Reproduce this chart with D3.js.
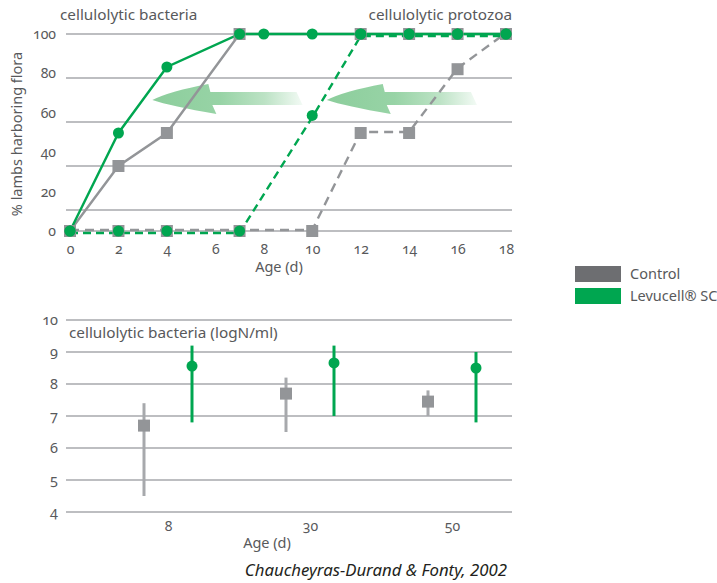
<!DOCTYPE html>
<html>
<head>
<meta charset="utf-8">
<script src="https://cdn.jsdelivr.net/npm/d3@7/dist/d3.min.js"></script>
<style>
    body { margin: 0; background: #fff; }
    svg text { font-family: "Noto Sans", "Open Sans", sans-serif; fill: #58595b; }
    .num { font-variant-numeric: oldstyle-nums; font-feature-settings: "onum" 1; }
</style>
</head>
<body>
<svg id="chart" width="717" height="583"></svg>
<script>
// ---- top chart data: [age in days, % lambs] ----
const dayTicks = [0, 2, 4, 6, 8, 10, 12, 14, 16, 18];
const pctTicks = [0, 20, 40, 60, 80, 100];
const bactControl = [[0, 0], [2, 40], [4, 55], [7, 100], [12, 100], [14, 100], [16, 100], [18, 100]];
const bactLevucell = [[0, 0], [2, 55], [4, 85], [7, 100], [8, 100], [10, 100], [12, 100], [14, 100], [16, 100], [18, 100]];
const protoControl = [[0, 0], [2, 0], [4, 0], [7, 0], [10, 0], [12, 55], [14, 55], [16, 84], [18, 100]];
const protoLevucell = [[0, 0], [2, 0], [4, 0], [7, 0], [10, 63], [12, 100], [14, 100], [16, 100], [18, 100]];
// arrows: from day -> to day, at % level
const arrows = [{ from: 9.6, to: 3.4, level: 70 }, { from: 16.8, to: 10.6, level: 70 }];

// ---- bottom chart data ----
const ageGroups = ["8", "30", "50"];
const logTicks = [4, 5, 6, 7, 8, 9, 10];
const ctrlMean = [6.7, 7.7, 7.45];
const ctrlLow = [4.5, 6.5, 7.0];
const ctrlHigh = [7.4, 8.2, 7.8];
const levMean = [8.56, 8.66, 8.5];
const levLow = [6.8, 7.0, 6.8];
const levHigh = [9.2, 9.2, 9.0];

const legendItems = ["Control", "Levucell® SC"];

const green = '#00a650', grey = '#939598', gridCol = '#a7a9ac', darkGrey = '#6d6e71';

const svg = d3.select('#chart');

// ================= top chart =================
const x = d3.scaleLinear().domain([0, 18]).range([70, 506]);
// gridlines in the original are not evenly spaced near zero
const y = d3.scaleLinear().domain([0, 20, 100]).range([231, 210, 34]);
const yLab = d3.scaleLinear().domain([0, 100]).range([231, 34]);

const topG = svg.append('g');

topG.selectAll('.grid').data(pctTicks).join('line')
    .attr('class', 'grid')
    .attr('x1', 66).attr('x2', 512)
    .attr('y1', d => y(d)).attr('y2', d => y(d))
    .attr('stroke', gridCol).attr('stroke-width', 1.5);

const yAxis = topG.append('g')
    .attr('transform', 'translate(56,0)')
    .call(d3.axisLeft(yLab).tickValues(pctTicks).tickSize(0).tickPadding(0));
yAxis.select('.domain').remove();
yAxis.selectAll('text').attr('class', 'num').style('font-size', '14px');

const xAxis = topG.append('g')
    .attr('transform', 'translate(0,231)')
    .call(d3.axisBottom(x).tickValues(dayTicks).tickSize(0).tickPadding(13));
xAxis.select('.domain').remove();
xAxis.selectAll('text').attr('class', 'num').style('font-size', '14px');

// arrows
const defs = svg.append('defs');
const grad = defs.append('linearGradient').attr('id', 'arrowGrad')
    .attr('x1', 0).attr('x2', 1).attr('y1', 0).attr('y2', 0);
grad.append('stop').attr('offset', 0).attr('stop-color', '#86cb97');
grad.append('stop').attr('offset', 0.45).attr('stop-color', '#92d1a1');
grad.append('stop').attr('offset', 0.75).attr('stop-color', '#b9e1c2');
grad.append('stop').attr('offset', 1).attr('stop-color', '#f2faf4');

topG.selectAll('.arrow').data(arrows).join('path')
    .attr('class', 'arrow')
    .attr('transform', d => `translate(${x(d.to)},${y(d.level)})`)
    .attr('d', d => {
        const L = x(d.from) - x(d.to);
        return `M0,0 Q18,-9 56,-16 L58,-8 L${L - 6},-8 L${L},5 L60,5 L64,14 Q18,6 0,0 Z`;
    })
    .attr('fill', 'url(#arrowGrad)')
    .attr('opacity', 0.95);

const topSeries = [
    { data: protoControl, color: grey, dash: '9,6', marker: 'square', dy: -1 },
    { data: bactControl, color: grey, dash: null, marker: 'square', dy: 0 },
    { data: protoLevucell, color: green, dash: '8,5', marker: 'circle', dy: 2 },
    { data: bactLevucell, color: green, dash: null, marker: 'circle', dy: 0 }
];

const line = d3.line().x(d => x(d[0])).y(d => y(d[1]));

topSeries.forEach(s => {
    topG.append('path')
        .datum(s.data)
        .attr('transform', `translate(0,${s.dy})`)
        .attr('d', line)
        .attr('fill', 'none')
        .attr('stroke', s.color)
        .attr('stroke-width', 2.4)
        .attr('stroke-dasharray', s.dash);
});

topSeries.filter(s => s.marker === 'square').forEach(s => {
    topG.append('g').selectAll('rect').data(s.data).join('rect')
        .attr('x', d => x(d[0]) - 6).attr('y', d => y(d[1]) - 6)
        .attr('width', 12).attr('height', 12)
        .attr('fill', s.color);
});
topSeries.filter(s => s.marker === 'circle').forEach(s => {
    topG.append('g').selectAll('circle').data(s.data).join('circle')
        .attr('cx', d => x(d[0])).attr('cy', d => y(d[1]))
        .attr('r', 5.5)
        .attr('fill', s.color);
});

topG.append('text').attr('x', 60).attr('y', 20).style('font-size', '15.3px').text('cellulolytic bacteria');
topG.append('text').attr('x', 512).attr('y', 20).attr('text-anchor', 'end').style('font-size', '15.3px').text('cellulolytic protozoa');
topG.append('text')
    .attr('transform', 'translate(22,134) rotate(-90)')
    .attr('text-anchor', 'middle').style('font-size', '14.5px')
    .text('% lambs harboring flora');
topG.append('text').attr('x', 279).attr('y', 272).attr('text-anchor', 'middle').style('font-size', '14.5px').text('Age (d)');

// ================= legend =================
const legend = svg.append('g').attr('transform', 'translate(575,266)');
legend.selectAll('rect').data(legendItems).join('rect')
    .attr('x', 0).attr('y', (d, i) => i * 22)
    .attr('width', 46).attr('height', 16)
    .attr('fill', (d, i) => i === 0 ? darkGrey : green);
legend.selectAll('text').data(legendItems).join('text')
    .attr('x', 55).attr('y', (d, i) => i * 22 + 13)
    .style('font-size', '14.5px')
    .text(d => d);

// ================= bottom chart =================
const x2 = d3.scalePoint().domain(ageGroups).range([168, 452]);
const dodge = d3.scalePoint().domain(['Control', 'Levucell']).range([-24, 24]);
const y2 = d3.scaleLinear().domain([4, 10]).range([512, 320]);

const botG = svg.append('g');

botG.selectAll('.grid').data(logTicks).join('line')
    .attr('class', 'grid')
    .attr('x1', 66).attr('x2', 512)
    .attr('y1', d => y2(d)).attr('y2', d => y2(d))
    .attr('stroke', gridCol).attr('stroke-width', 1.5);

const y2Axis = botG.append('g')
    .attr('transform', 'translate(58,0)')
    .call(d3.axisLeft(y2).tickValues(logTicks).tickFormat(d3.format('d')).tickSize(0).tickPadding(0));
y2Axis.select('.domain').remove();
y2Axis.selectAll('text').attr('class', 'num').style('font-size', '14.5px');

const x2Axis = botG.append('g')
    .attr('transform', 'translate(0,512)')
    .call(d3.axisBottom(x2).tickSize(0).tickPadding(9));
x2Axis.select('.domain').remove();
x2Axis.selectAll('text').attr('class', 'num').style('font-size', '14px');

const ctrlRows = ageGroups.map((g, i) => ({ g, mean: ctrlMean[i], low: ctrlLow[i], high: ctrlHigh[i] }));
const levRows = ageGroups.map((g, i) => ({ g, mean: levMean[i], low: levLow[i], high: levHigh[i] }));

botG.append('g').selectAll('line').data(ctrlRows).join('line')
    .attr('x1', d => x2(d.g) + dodge('Control')).attr('x2', d => x2(d.g) + dodge('Control'))
    .attr('y1', d => y2(d.low)).attr('y2', d => y2(d.high))
    .attr('stroke', '#a7a9ac').attr('stroke-width', 3);
botG.append('g').selectAll('rect').data(ctrlRows).join('rect')
    .attr('x', d => x2(d.g) + dodge('Control') - 6).attr('y', d => y2(d.mean) - 6)
    .attr('width', 12).attr('height', 12)
    .attr('fill', grey);

botG.append('g').selectAll('line').data(levRows).join('line')
    .attr('x1', d => x2(d.g) + dodge('Levucell')).attr('x2', d => x2(d.g) + dodge('Levucell'))
    .attr('y1', d => y2(d.low)).attr('y2', d => y2(d.high))
    .attr('stroke', green).attr('stroke-width', 3);
botG.append('g').selectAll('circle').data(levRows).join('circle')
    .attr('cx', d => x2(d.g) + dodge('Levucell')).attr('cy', d => y2(d.mean))
    .attr('r', 5.5)
    .attr('fill', green);

botG.append('text').attr('x', 69).attr('y', 338).style('font-size', '15.3px').text('cellulolytic bacteria (logN/ml)');
botG.append('text').attr('x', 267).attr('y', 548).attr('text-anchor', 'middle').style('font-size', '14.5px').text('Age (d)');

svg.append('text')
    .attr('x', 507).attr('y', 576)
    .attr('text-anchor', 'end')
    .style('font-size', '16.8px').style('font-style', 'italic').style('fill', '#231f20')
    .text('Chaucheyras-Durand & Fonty, 2002');
</script>
</body>
</html>
